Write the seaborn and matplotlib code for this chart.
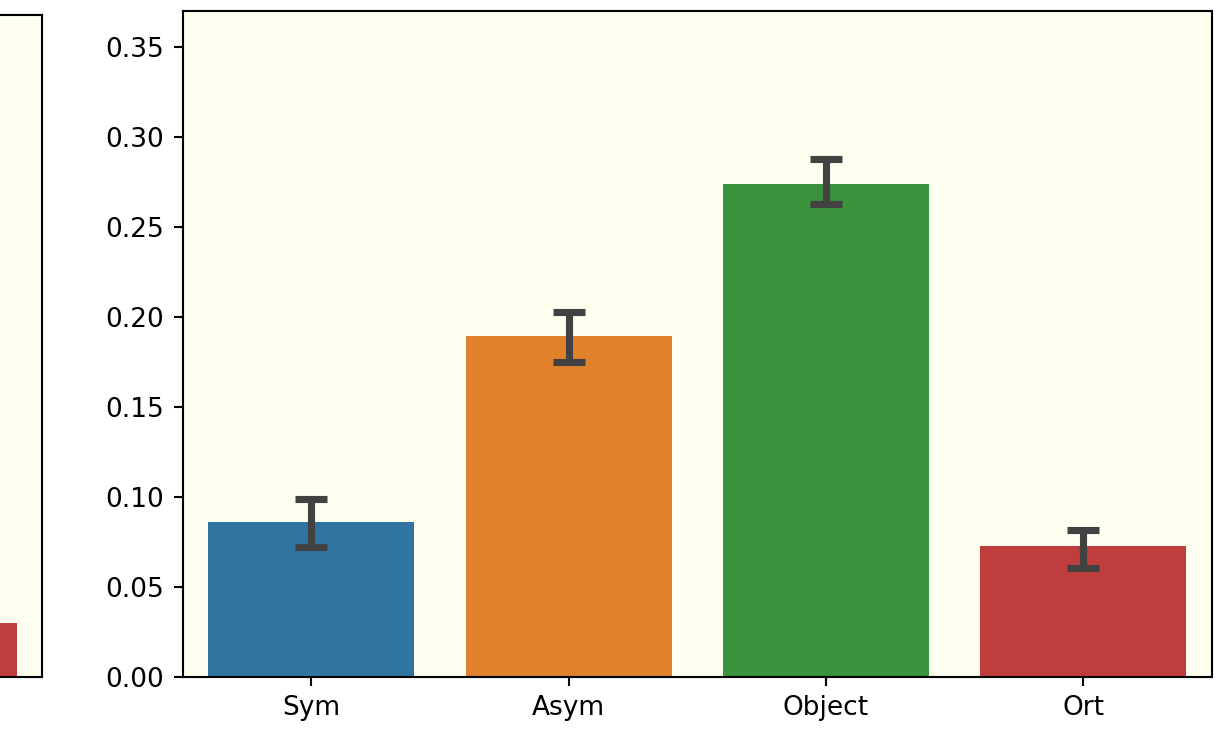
import matplotlib
matplotlib.use("Agg")
import matplotlib.pyplot as plt
import seaborn as sns
import pandas as pd

categories = ["Sym", "Asym", "Object", "Ort"]
means = [0.0861, 0.1896, 0.2741, 0.0728]
ci_low = [0.0722, 0.1750, 0.2626, 0.0606]
ci_high = [0.0987, 0.2029, 0.2876, 0.0817]

# neighbouring panel: only its last bar falls inside the figure
left_categories = ["Ort"]
left_means = [0.030]

DPI = 190
fig = plt.figure(figsize=(1228 / DPI, 735 / DPI), dpi=DPI)

bg = "#fffff0"
err_color = "#424242"

# left panel
ax_l = fig.add_axes([-0.8035, 0.0790, 0.8379, 0.9006])
ax_l.set_facecolor(bg)
df_l = pd.DataFrame({"cond": left_categories, "value": left_means})
sns.barplot(data=df_l, x="cond", y="value", hue="cond", order=categories,
            hue_order=categories, errorbar=None, legend=False, ax=ax_l)
ax_l.set_xlim(-0.5, len(categories) - 0.5)
ax_l.set_ylim(0, 0.37)
ax_l.set_xlabel("")
ax_l.set_ylabel("")
ax_l.set_xticklabels([])
ax_l.set_yticklabels([])

# main panel
ax = fig.add_axes([0.1487, 0.0790, 0.8382, 0.9060])
ax.set_facecolor(bg)
df = pd.DataFrame({"cond": categories, "value": means})
sns.barplot(data=df, x="cond", y="value", hue="cond", order=categories,
            hue_order=categories, errorbar=None, legend=False, ax=ax)

centers = [p.get_x() + p.get_width() / 2 for p in ax.patches[:len(categories)]]
lower = [m - lo for m, lo in zip(means, ci_low)]
upper = [hi - m for m, hi in zip(means, ci_high)]
ax.errorbar(centers, means, yerr=[lower, upper], fmt="none",
            ecolor=err_color, elinewidth=2.7, capsize=6, capthick=2.7,
            zorder=3)

ax.set_xlim(-0.5, len(categories) - 0.5)
ax.set_ylim(0, 0.37)
ax.set_yticks([0.00, 0.05, 0.10, 0.15, 0.20, 0.25, 0.30, 0.35])
ax.set_yticklabels([f"{v:.2f}" for v in ax.get_yticks()])
ax.set_xlabel("")
ax.set_ylabel("")

fig.savefig("out.png", dpi=DPI, facecolor="white")
